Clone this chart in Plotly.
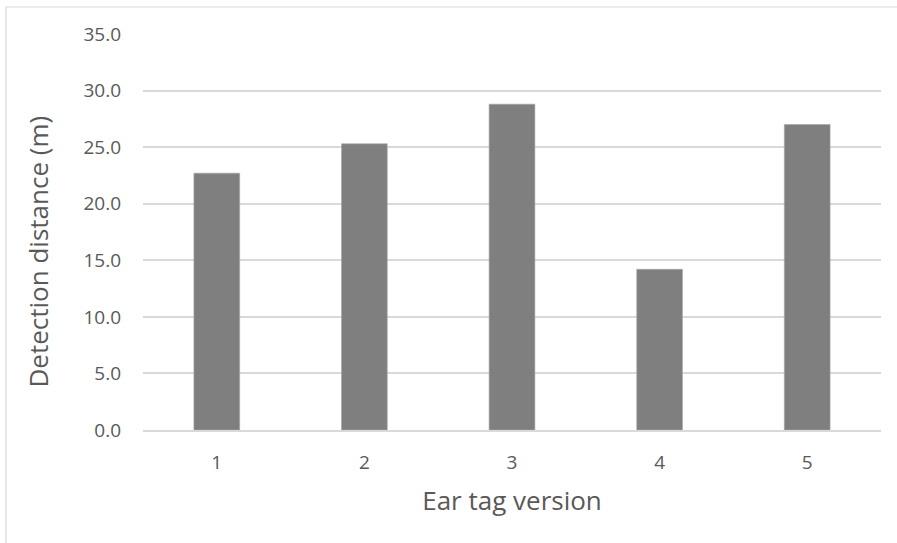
import plotly.graph_objects as go

categories = ["1", "2", "3", "4", "5"]
distances = [22.7, 25.3, 28.8, 14.2, 27.0]
y_ticks = [0, 5, 10, 15, 20, 25, 30, 35]
y_tick_labels = ["0.0", "5.0", "10.0", "15.0", "20.0", "25.0", "30.0", "35.0"]

FONT = "Open Sans, Liberation Sans, sans-serif"
TXT = "#595959"

fig = go.Figure(go.Bar(
    x=categories, y=distances,
    marker=dict(color="#7f7f7f", line=dict(color="#a6a6a6", width=0.6)),
    width=0.31,
))

fig.update_layout(
    width=897, height=543,
    margin=dict(l=143, r=16, t=34, b=113),
    paper_bgcolor="white", plot_bgcolor="white",
    font=dict(family=FONT, color=TXT),
    showlegend=False,
    xaxis=dict(
        type="category",
        showgrid=False, showline=True, linecolor="#d9d9d9", linewidth=1.5,
        ticks="", tickfont=dict(size=19, color=TXT),
        ticklabelstandoff=14,
        title=dict(text="Ear tag version", font=dict(size=26, color=TXT), standoff=18),
    ),
    yaxis=dict(
        range=[0, 35], tickvals=y_ticks, ticktext=y_tick_labels,
        showgrid=True, gridcolor="#d9d9d9", gridwidth=1.5,
        zeroline=False, showline=False,
        ticks="", tickfont=dict(size=19, color=TXT),
        ticklabelstandoff=21,
    ),
    annotations=[dict(
        text="Detection distance (m)", textangle=-90,
        xref="paper", yref="paper",
        x=(37 - 143) / 738, y=(430 - 251.5) / 396,
        xanchor="center", yanchor="middle", showarrow=False,
        font=dict(size=26, color=TXT, family=FONT),
    )],
    shapes=[dict(
        type="rect", xref="paper", yref="paper",
        x0=(6 - 143) / 738, x1=1.2, y0=-0.5, y1=(430 - 7) / 396,
        line=dict(color="#d9d9d9", width=1.2), fillcolor="rgba(0,0,0,0)", layer="below",
    )],
)

fig.write_html("out.html", config={"displayModeBar": False},
               post_script="document.body.style.margin='0';")
